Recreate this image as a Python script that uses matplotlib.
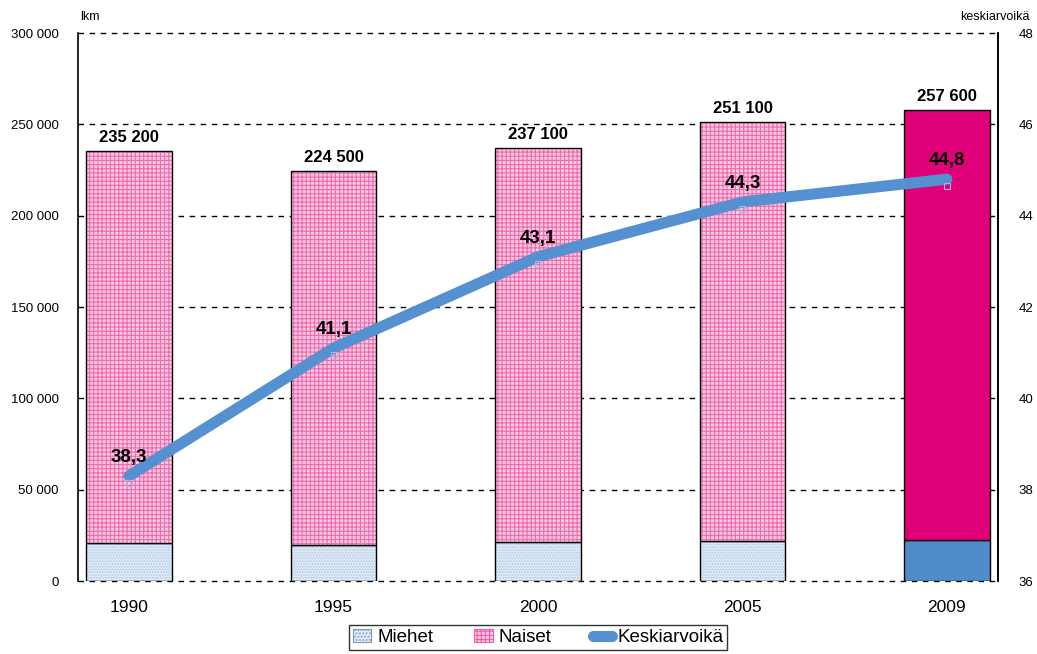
import matplotlib
matplotlib.use("Agg")
import matplotlib.pyplot as plt
from matplotlib.patches import Patch
from matplotlib.lines import Line2D

plt.rcParams['font.family'] = ['Liberation Sans', 'DejaVu Sans']
plt.rcParams['hatch.linewidth'] = 0.8

years = ['1990', '1995', '2000', '2005', '2009']
miehet = [20800, 19700, 21400, 21900, 22400]
totals = [235200, 224500, 237100, 251100, 257600]
naiset = [t - m for t, m in zip(totals, miehet)]
total_labels = ['235 200', '224 500', '237 100', '251 100', '257 600']
keski = [38.3, 41.1, 43.1, 44.3, 44.8]
keski_labels = ['38,3', '41,1', '43,1', '44,3', '44,8']
left_ticks = [0, 50000, 100000, 150000, 200000, 250000, 300000]
left_ticklabels = ['0', '50 000', '100 000', '150 000', '200 000', '250 000', '300 000']
right_ticks = [36, 38, 40, 42, 44, 46, 48]

fig = plt.figure(figsize=(10.37, 6.54), dpi=100)
ax = fig.add_axes([78/1037, 1-581/654, 920/1037, 548/654])
x = list(range(len(years)))
w = 0.42

line_color = '#5591D0'
for i in x:
    last = (i == len(x) - 1)
    if last:
        ax.bar(i, miehet[i], w, color='#4F8CC9', edgecolor='black', linewidth=1, zorder=2)
        ax.bar(i, naiset[i], w, bottom=miehet[i], color='#E0007A', edgecolor='black', linewidth=1, zorder=2)
    else:
        ax.bar(i, miehet[i], w, color='#DDE9F6', edgecolor='#B4CBE6', hatch='......', linewidth=0, zorder=2)
        ax.bar(i, miehet[i], w, fill=False, edgecolor='black', linewidth=1, zorder=2)
        ax.bar(i, naiset[i], w, bottom=miehet[i], color='#FAC8E1', edgecolor='#EE6AAE', hatch='++++', linewidth=0, zorder=2)
        ax.bar(i, naiset[i], w, bottom=miehet[i], fill=False, edgecolor='black', linewidth=1, zorder=2)
    ax.text(i, totals[i] + 3500, total_labels[i], ha='center', va='bottom', fontsize=12, fontweight='bold')

ax.set_xlim(-0.25, 4.25)
ax.set_ylim(0, 300000)
ax.set_yticks(left_ticks)
ax.set_yticklabels(left_ticklabels, fontsize=9.5)
ax.set_xticks(x)
ax.set_xticklabels(years, fontsize=12.5)
ax.tick_params(axis='x', length=0, pad=14)
ax.tick_params(axis='y', length=0, pad=14)
for yv in left_ticks:
    ax.axhline(yv, color='black', linestyle=(0, (4, 4)), linewidth=1, zorder=1, clip_on=False)
for s in ['left', 'right']:
    ax.spines[s].set_linewidth(1.2)
ax.spines['top'].set_visible(False)
ax.spines['bottom'].set_visible(False)

ax2 = ax.twinx()
ax2.set_ylim(36, 48)
ax2.set_yticks(right_ticks)
ax2.set_yticklabels([str(v) for v in right_ticks], fontsize=9.5)
ax2.tick_params(axis='y', length=0, pad=15)
ax2.spines['top'].set_visible(False)
ax2.spines['bottom'].set_visible(False)
ax2.spines['left'].set_visible(False)
ax2.spines['right'].set_linewidth(1.2)
ax2.plot(x, keski, color=line_color, linewidth=8, solid_capstyle='round', zorder=3)
ax2.plot(x, [k - 0.15 for k in keski], linestyle='none', marker='s', markersize=5,
         markerfacecolor='none', markeredgecolor='#9BBCE4', markeredgewidth=0.8, zorder=3)
for i in x:
    ax2.text(i, keski[i] + 0.22, keski_labels[i], ha='center', va='bottom', fontsize=13.5, fontweight='bold', zorder=4)

fig.text(80/1037, 1-17/654, 'lkm', fontsize=9, va='center', ha='left')
fig.text(1030/1037, 1-17/654, 'keskiarvoikä', fontsize=9, va='center', ha='right')

handles = [
    Patch(facecolor='#DDE9F6', edgecolor='#7F9CC0', hatch='.....', linewidth=0.8),
    Patch(facecolor='#FAC8E1', edgecolor='#EC5FA8', hatch='++++', linewidth=0.8),
    Line2D([0], [0], color=line_color, linewidth=8, solid_capstyle='round'),
]
leg = fig.legend(handles, ['Miehet', 'Naiset', 'Keskiarvoikä'], loc='lower center',
                 bbox_to_anchor=(538/1037, -0.008), ncol=3, frameon=True, fancybox=False,
                 edgecolor='black', fontsize=13.5, handlelength=1.0, handleheight=0.7,
                 columnspacing=2.2, handletextpad=0.3, borderpad=0.2)
leg.get_frame().set_linewidth(1)

fig.savefig('out.png', dpi=100)
